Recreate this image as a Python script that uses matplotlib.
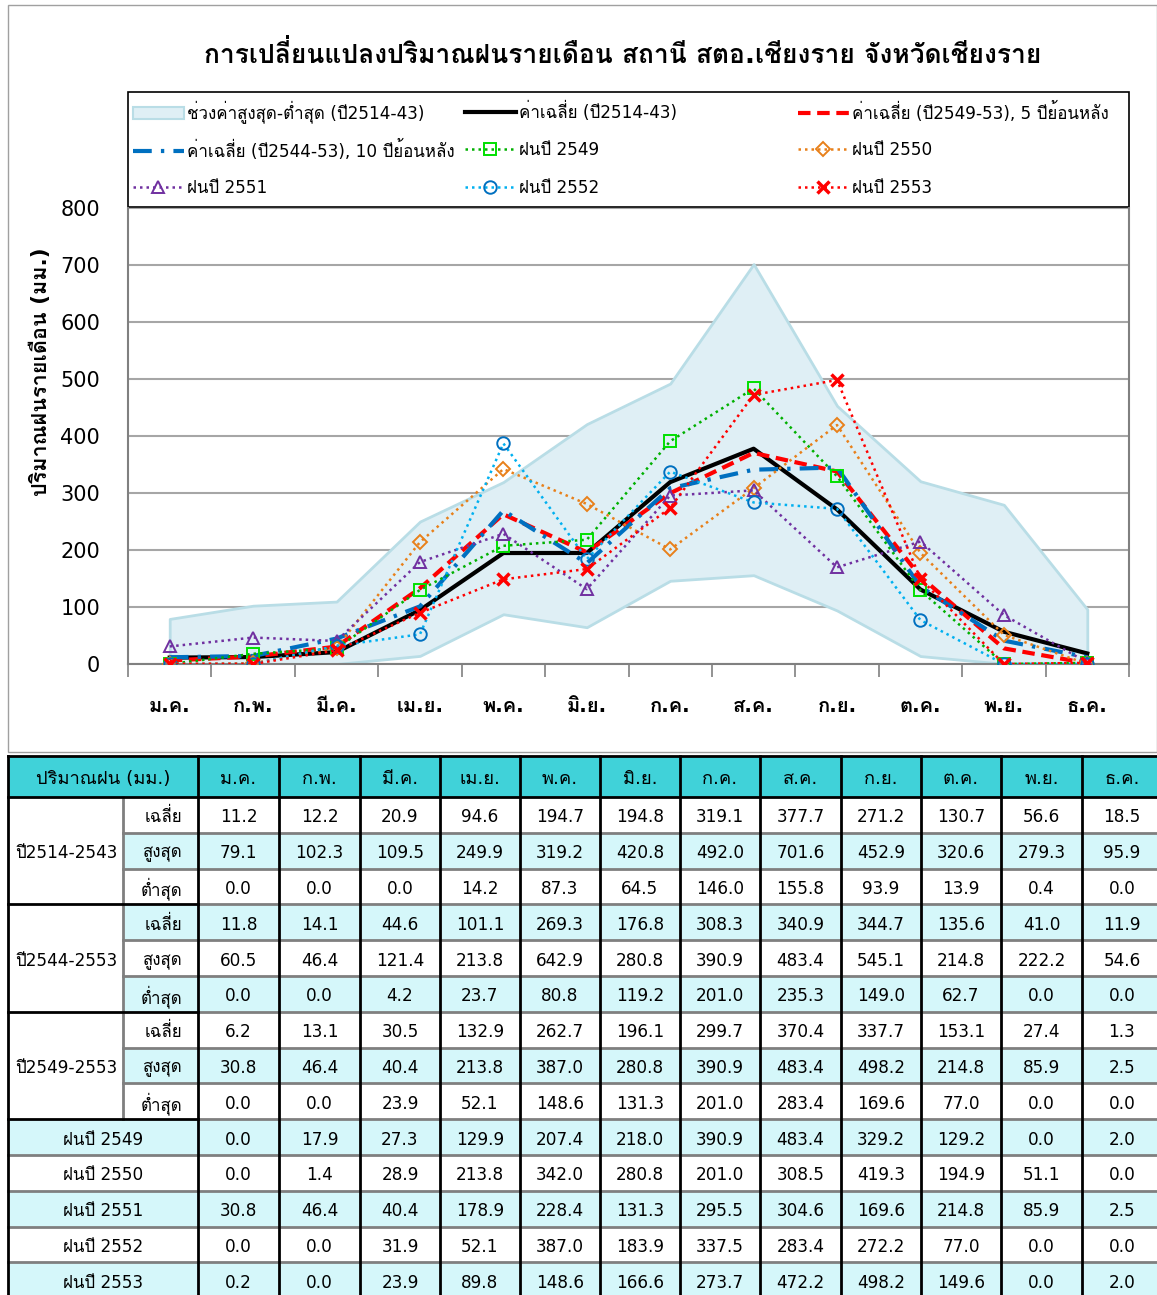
import matplotlib
matplotlib.use('Agg')
import matplotlib.pyplot as plt
from matplotlib import font_manager, ft2font
from matplotlib.patches import Patch, Rectangle
import numpy as np

# ---------------- data ----------------
months = ['ม.ค.', 'ก.พ.', 'มี.ค.', 'เม.ย.', 'พ.ค.', 'มิ.ย.', 'ก.ค.', 'ส.ค.', 'ก.ย.', 'ต.ค.', 'พ.ย.', 'ธ.ค.']
avg_2514_43 = [11.2, 12.2, 20.9, 94.6, 194.7, 194.8, 319.1, 377.7, 271.2, 130.7, 56.6, 18.5]
max_2514_43 = [79.1, 102.3, 109.5, 249.9, 319.2, 420.8, 492.0, 701.6, 452.9, 320.6, 279.3, 95.9]
min_2514_43 = [0.0, 0.0, 0.0, 14.2, 87.3, 64.5, 146.0, 155.8, 93.9, 13.9, 0.4, 0.0]
avg_2544_53 = [11.8, 14.1, 44.6, 101.1, 269.3, 176.8, 308.3, 340.9, 344.7, 135.6, 41.0, 11.9]
max_2544_53 = [60.5, 46.4, 121.4, 213.8, 642.9, 280.8, 390.9, 483.4, 545.1, 214.8, 222.2, 54.6]
min_2544_53 = [0.0, 0.0, 4.2, 23.7, 80.8, 119.2, 201.0, 235.3, 149.0, 62.7, 0.0, 0.0]
avg_2549_53 = [6.2, 13.1, 30.5, 132.9, 262.7, 196.1, 299.7, 370.4, 337.7, 153.1, 27.4, 1.3]
max_2549_53 = [30.8, 46.4, 40.4, 213.8, 387.0, 280.8, 390.9, 483.4, 498.2, 214.8, 85.9, 2.5]
min_2549_53 = [0.0, 0.0, 23.9, 52.1, 148.6, 131.3, 201.0, 283.4, 169.6, 77.0, 0.0, 0.0]
rain_2549 = [0.0, 17.9, 27.3, 129.9, 207.4, 218.0, 390.9, 483.4, 329.2, 129.2, 0.0, 2.0]
rain_2550 = [0.0, 1.4, 28.9, 213.8, 342.0, 280.8, 201.0, 308.5, 419.3, 194.9, 51.1, 0.0]
rain_2551 = [30.8, 46.4, 40.4, 178.9, 228.4, 131.3, 295.5, 304.6, 169.6, 214.8, 85.9, 2.5]
rain_2552 = [0.0, 0.0, 31.9, 52.1, 387.0, 183.9, 337.5, 283.4, 272.2, 77.0, 0.0, 0.0]
rain_2553 = [0.2, 0.0, 23.9, 89.8, 148.6, 166.6, 273.7, 472.2, 498.2, 149.6, 0.0, 2.0]

title = 'การเปลี่ยนแปลงปริมาณฝนรายเดือน สถานี สตอ.เชียงราย จังหวัดเชียงราย'
ylabel = 'ปริมาณฝนรายเดือน (มม.)'
yticks = [0, 100, 200, 300, 400, 500, 600, 700, 800]
legend_labels = ['ช่วงค่าสูงสุด-ต่ำสุด (ปี2514-43)', 'ค่าเฉลี่ย (ปี2514-43)',
                 'ค่าเฉลี่ย (ปี2549-53), 5 ปีย้อนหลัง', 'ค่าเฉลี่ย (ปี2544-53), 10 ปีย้อนหลัง',
                 'ฝนปี 2549', 'ฝนปี 2550', 'ฝนปี 2551', 'ฝนปี 2552', 'ฝนปี 2553']
table_header = 'ปริมาณฝน (มม.)'
stat_labels = ['เฉลี่ย', 'สูงสุด', 'ต่ำสุด']
group_labels = ['ปี2514-2543', 'ปี2544-2553', 'ปี2549-2553']
group_values = [[avg_2514_43, max_2514_43, min_2514_43],
                [avg_2544_53, max_2544_53, min_2544_53],
                [avg_2549_53, max_2549_53, min_2549_53]]
year_labels = ['ฝนปี 2549', 'ฝนปี 2550', 'ฝนปี 2551', 'ฝนปี 2552', 'ฝนปี 2553']
year_values = [rain_2549, rain_2550, rain_2551, rain_2552, rain_2553]

# ---------------- fonts ----------------
def find_thai():
    prefs = ['Tahoma', 'Loma', 'Noto Sans Thai Looped', 'IBM Plex Sans Thai Looped',
             'Noto Sans Thai', 'Garuda', 'Sarabun']
    found = {}
    for f in font_manager.fontManager.ttflist:
        try:
            cmap = ft2font.FT2Font(f.fname).get_charmap()
        except Exception:
            continue
        if 0x0E01 in cmap and 0x0E35 in cmap:
            found.setdefault(f.name, f.fname)
    for p in prefs:
        if p in found:
            return p
    if found:
        return sorted(found)[0]
    return None

thai = find_thai()
fam = ['DejaVu Sans'] + ([thai] if thai else [])
plt.rcParams['font.family'] = fam

W, H = 1157, 1295
fig = plt.figure(figsize=(W / 100, H / 100), dpi=100)
fig.patch.set_facecolor('white')

# overlay for borders and table (pixel coordinates)
ov = fig.add_axes([0, 0, 1, 1], zorder=0)
ov.set_xlim(0, W)
ov.set_ylim(H, 0)
ov.axis('off')
ov.patch.set_alpha(0)

ov.add_patch(Rectangle((8, 5), W - 8, 747, facecolor='white', edgecolor='#A0A0A0', lw=1))

# ---------------- chart ----------------
ax = fig.add_axes([128 / W, 1 - 664 / H, (1129 - 128) / W, (664 - 208) / H], zorder=2)
x = np.arange(len(months))

ax.fill_between(x, min_2514_43, max_2514_43, facecolor='#DFEFF5', edgecolor='#B9DDE6', lw=2, zorder=1)

ln_avg, = ax.plot(x, avg_2514_43, color='black', lw=3, zorder=3, solid_joinstyle='round')
ln_5, = ax.plot(x, avg_2549_53, color='#FF0000', lw=3, ls=(0, (3, 1.6)), zorder=4)
ln_10, = ax.plot(x, avg_2544_53, color='#0070C0', lw=3, ls=(0, (4.5, 2.2, 0.8, 2.2)), zorder=4)

dot = (0, (1, 1.6))
ln49, = ax.plot(x, rain_2549, color='#00B000', lw=1.8, ls=dot, marker='s', ms=8, mfc='none',
                mec='#00E000', mew=1.4, zorder=5)
ln50, = ax.plot(x, rain_2550, color='#E8801A', lw=1.8, ls=dot, marker='D', ms=7, mfc='none',
                mec='#E8801A', mew=1.4, zorder=5)
ln51, = ax.plot(x, rain_2551, color='#7030A0', lw=1.8, ls=dot, marker='^', ms=9, mfc='none',
                mec='#7030A0', mew=1.4, zorder=5)
ln52, = ax.plot(x, rain_2552, color='#00B0F0', lw=1.8, ls=dot, marker='o', ms=9, mfc='none',
                mec='#0070C0', mew=1.4, zorder=5)
ln53, = ax.plot(x, rain_2553, color='#FF0000', lw=1.8, ls=dot, marker='x', ms=9,
                mec='#FF0000', mew=2.5, zorder=6)

ax.set_xlim(-0.5, len(months) - 0.5)
ax.set_ylim(0, 800)
ax.set_yticks(yticks)
ax.set_yticklabels([str(v) for v in yticks], fontsize=15)
ax.tick_params(axis='y', length=0, pad=20)
ax.set_xticks(x)
ax.set_xticklabels(months, fontsize=14.5, fontweight='bold')
ax.set_xticks(np.arange(-0.5, len(months)), minor=True)
ax.tick_params(axis='x', which='major', length=0, pad=24)
ax.tick_params(axis='x', which='minor', length=9, width=1.2, color='#808080', direction='out')
ax.grid(axis='y', color='#A6A6A6', lw=1.5, zorder=0)
ax.set_axisbelow(True)
ax.spines['top'].set_visible(False)
for s in ['left', 'bottom', 'right']:
    ax.spines[s].set_color('#808080')
    ax.spines[s].set_linewidth(1.5)

fig.text(623 / W, 1 - 55 / H, title, ha='center', va='center', fontsize=19, fontweight='bold')
fig.text(40 / W, 1 - 372 / H, ylabel, ha='center', va='center', rotation=90, fontsize=15.5, fontweight='bold')

# ---------------- legend ----------------
ov.add_patch(Rectangle((128, 92), 1001, 115, facecolor='white', edgecolor='black', lw=1.2, zorder=3))
band_handle = Patch(facecolor='#DFEFF5', edgecolor='#B9DDE6', lw=1.5)
handles = [band_handle, ln_avg, ln_5, ln_10, ln49, ln50, ln51, ln52, ln53]
col_x = [133, 465, 798]
row_y = [112, 150, 188]
for i, (h, lab) in enumerate(zip(handles, legend_labels)):
    rr, cc = divmod(i, 3)
    lg = fig.legend([h], [lab], loc='center left',
                    bbox_to_anchor=(col_x[cc] / W, 1 - row_y[rr] / H),
                    frameon=False, fontsize=12.2, handlelength=3.0, handletextpad=0.2,
                    borderpad=0, borderaxespad=0)
    lg.set_zorder(10)

# ---------------- table ----------------
col_edges = [8, 123, 198, 279, 360, 440, 520, 600, 680, 760, 841, 921, 1001, 1082, 1162]
head_top, head_bot = 756, 797
rh = 35.8
cyan_head = '#40D2D9'
cyan_light = '#D5F7FA'
grey = '#7F7F7F'
n_rows = 3 * 3 + len(year_labels)
tfs = 12.2
dy = 2.5

def row_top(i):
    return head_bot + i * rh

ov.add_patch(Rectangle((8, head_top), col_edges[-1] - 8, head_bot - head_top, facecolor=cyan_head,
                       edgecolor='none', zorder=1))
ov.text((8 + 198) / 2, (head_top + head_bot) / 2 + 2, table_header, ha='center', va='center', fontsize=13.2)
for j, m in enumerate(months):
    ov.text((col_edges[j + 2] + col_edges[j + 3]) / 2, (head_top + head_bot) / 2 + 2, m,
            ha='center', va='center', fontsize=13.2)

r = 0
for g in range(3):
    for k in range(3):
        t = row_top(r)
        if r % 2 == 1:
            ov.add_patch(Rectangle((123, t), col_edges[-1] - 123, rh, facecolor=cyan_light,
                                   edgecolor='none', zorder=1))
        ov.text(182, t + rh / 2 + dy, stat_labels[k], ha='right', va='center', fontsize=tfs)
        for j in range(12):
            ov.text((col_edges[j + 2] + col_edges[j + 3]) / 2, t + rh / 2 + dy,
                    '%.1f' % group_values[g][k][j], ha='center', va='center', fontsize=tfs)
        r += 1
    ov.text(66, row_top(r - 2) + rh / 2 + dy, group_labels[g], ha='center', va='center', fontsize=tfs)
for yl, vals in zip(year_labels, year_values):
    t = row_top(r)
    if r % 2 == 1:
        ov.add_patch(Rectangle((8, t), col_edges[-1] - 8, rh, facecolor=cyan_light,
                               edgecolor='none', zorder=1))
    ov.text(103, t + rh / 2 + dy, yl, ha='center', va='center', fontsize=tfs)
    for j in range(12):
        ov.text((col_edges[j + 2] + col_edges[j + 3]) / 2, t + rh / 2 + dy,
                '%.1f' % vals[j], ha='center', va='center', fontsize=tfs)
    r += 1

bottom = row_top(n_rows)
# horizontal lines
for i in range(1, n_rows):
    yy = row_top(i)
    if i <= 9 and i % 3 == 0:
        ov.plot([8, 198], [yy, yy], color='black', lw=2, zorder=3)
        ov.plot([198, col_edges[-1]], [yy, yy], color=grey, lw=2, zorder=2)
    elif i < 9:
        ov.plot([123, col_edges[-1]], [yy, yy], color=grey, lw=2, zorder=2)
    else:
        ov.plot([8, col_edges[-1]], [yy, yy], color=grey, lw=2, zorder=2)
ov.plot([8, col_edges[-1]], [head_top, head_top], color='black', lw=2, zorder=3)
ov.plot([8, col_edges[-1]], [head_bot, head_bot], color='black', lw=2, zorder=3)
# vertical lines
ov.plot([123, 123], [head_bot, row_top(9)], color=grey, lw=2, zorder=2)
for xe in [8] + col_edges[2:]:
    ov.plot([xe, xe], [head_top, bottom], color='black', lw=2, zorder=3)

fig.savefig('out.png', dpi=100, facecolor='white')
